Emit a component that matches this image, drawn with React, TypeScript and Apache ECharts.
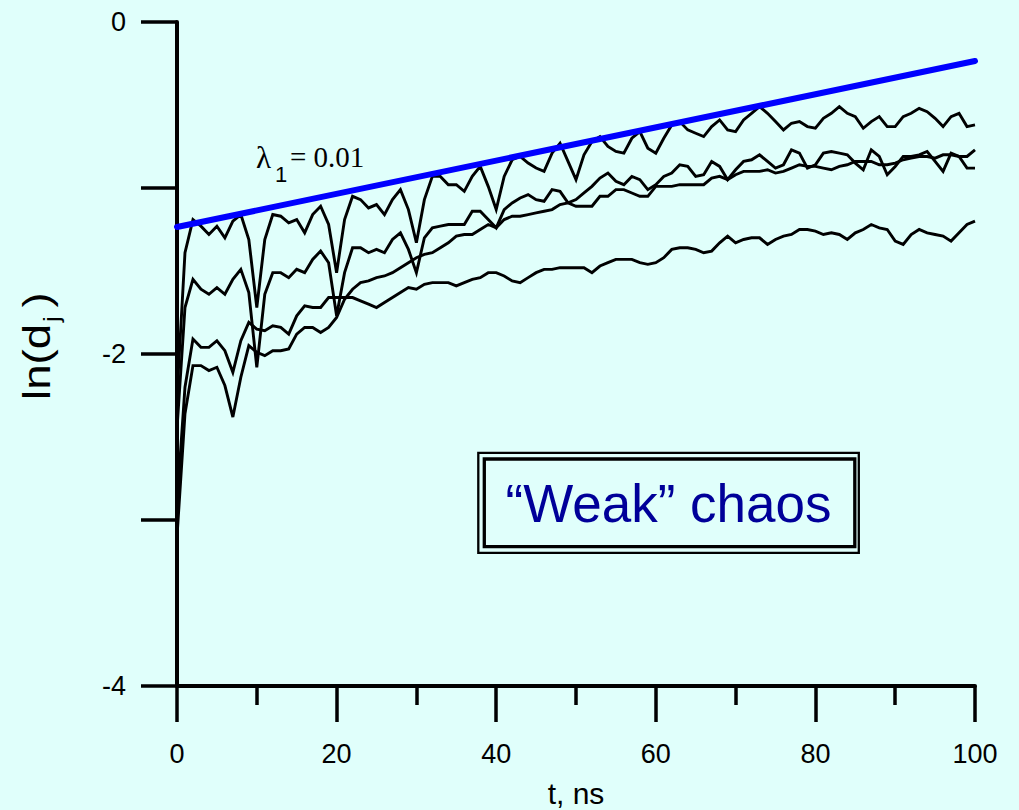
import React, { useEffect, useRef } from "react";
import * as echarts from "echarts";

// time samples (ns)
const timeNs: number[] = Array.from({ length: 101 }, (_, i) => i);

// ln(d_j) curves, one value per ns (t = 0..100)
const curveA = [
  -2.25, -1.39, -1.19, -1.23, -1.28, -1.23, -1.30, -1.20, -1.16, -1.31,
  -1.72, -1.31, -1.16, -1.17, -1.21, -1.19, -1.27, -1.16, -1.11, -1.22,
  -1.51, -1.19, -1.05, -1.07, -1.12, -1.10, -1.16, -1.07, -1.01, -1.13,
  -1.33, -1.07, -0.93, -0.93, -0.98, -0.98, -1.02, -0.93, -0.87, -0.99,
  -1.13, -0.93, -0.83, -0.81, -0.85, -0.88, -0.90, -0.79, -0.73, -0.84,
  -0.95, -0.80, -0.72, -0.69, -0.75, -0.78, -0.79, -0.70, -0.66, -0.76,
  -0.79, -0.70, -0.62, -0.60, -0.65, -0.67, -0.69, -0.63, -0.59, -0.65,
  -0.66, -0.59, -0.55, -0.51, -0.55, -0.60, -0.65, -0.61, -0.60, -0.63,
  -0.64, -0.58, -0.55, -0.51, -0.55, -0.57, -0.64, -0.60, -0.57, -0.63,
  -0.63, -0.57, -0.55, -0.52, -0.54, -0.58, -0.63, -0.57, -0.55, -0.63,
  -0.62,
];
const curveB = [
  -2.45, -1.72, -1.55, -1.61, -1.64, -1.60, -1.64, -1.55, -1.49, -1.63,
  -2.08, -1.64, -1.51, -1.51, -1.54, -1.49, -1.51, -1.43, -1.38, -1.45,
  -1.77, -1.51, -1.36, -1.36, -1.39, -1.37, -1.39, -1.31, -1.27, -1.37,
  -1.51, -1.30, -1.24, -1.23, -1.22, -1.22, -1.22, -1.14, -1.14, -1.19,
  -1.24, -1.13, -1.09, -1.06, -1.04, -1.07, -1.08, -1.01, -1.02, -1.09,
  -1.11, -1.11, -1.11, -1.05, -1.05, -1.01, -1.01, -1.03, -1.05, -1.05,
  -0.99, -0.99, -0.99, -0.98, -0.98, -0.98, -0.98, -0.94, -0.93, -0.95,
  -0.92, -0.90, -0.90, -0.90, -0.89, -0.91, -0.90, -0.88, -0.86, -0.87,
  -0.87, -0.88, -0.89, -0.87, -0.86, -0.84, -0.84, -0.84, -0.86, -0.86,
  -0.85, -0.83, -0.82, -0.81, -0.81, -0.82, -0.80, -0.80, -0.81, -0.81,
  -0.77,
];
const curveC = [
  -2.90, -2.20, -1.91, -1.96, -1.96, -1.92, -1.98, -2.11, -1.92, -1.81,
  -1.85, -1.86, -1.83, -1.84, -1.88, -1.77, -1.71, -1.72, -1.72, -1.66,
  -1.66, -1.66, -1.66, -1.68, -1.70, -1.72, -1.69, -1.66, -1.63, -1.60,
  -1.61, -1.58, -1.57, -1.57, -1.57, -1.59, -1.57, -1.55, -1.54, -1.51,
  -1.51, -1.53, -1.56, -1.57, -1.54, -1.51, -1.49, -1.49, -1.48, -1.48,
  -1.48, -1.48, -1.51, -1.47, -1.45, -1.43, -1.43, -1.43, -1.45, -1.46,
  -1.45, -1.42, -1.37, -1.36, -1.36, -1.37, -1.39, -1.38, -1.33, -1.29,
  -1.33, -1.31, -1.30, -1.30, -1.34, -1.31, -1.29, -1.28, -1.25, -1.25,
  -1.26, -1.28, -1.27, -1.28, -1.31, -1.27, -1.25, -1.22, -1.24, -1.25,
  -1.32, -1.34, -1.28, -1.25, -1.27, -1.28, -1.29, -1.32, -1.27, -1.22,
  -1.20,
];
const curveD = [
  -3.10, -2.36, -2.07, -2.07, -2.10, -2.08, -2.19, -2.38, -2.14, -1.95,
  -1.99, -2.01, -1.98, -1.98, -1.97, -1.88, -1.84, -1.84, -1.87, -1.84,
  -1.78, -1.67, -1.61, -1.57, -1.56, -1.54, -1.53, -1.51, -1.48, -1.45,
  -1.42, -1.40, -1.39, -1.36, -1.33, -1.29, -1.28, -1.28, -1.25, -1.22,
  -1.24, -1.19, -1.17, -1.17, -1.16, -1.15, -1.14, -1.13, -1.10, -1.09,
  -1.07, -1.03, -0.99, -0.94, -0.91, -0.96, -0.98, -0.93, -0.95, -1.01,
  -0.98, -0.93, -0.91, -0.86, -0.87, -0.93, -0.92, -0.84, -0.87, -0.95,
  -0.89, -0.84, -0.83, -0.80, -0.84, -0.88, -0.86, -0.77, -0.79, -0.88,
  -0.86, -0.79, -0.78, -0.79, -0.80, -0.85, -0.89, -0.77, -0.81, -0.92,
  -0.87, -0.81, -0.81, -0.80, -0.78, -0.84, -0.90, -0.79, -0.81, -0.88,
  -0.88,
];

// fitted slope line, lambda_1 = 0.01
const lambdaFit: number[][] = [
  [0, -1.235],
  [100, -0.235],
];

const xLabelValues = [0, 20, 40, 60, 80, 100];
const yLabelValues = [0, -2, -4];

const BG = "#E0FFFB";
const SANS = "'Liberation Sans', Arial, Helvetica, sans-serif";
const SERIF = "'Liberation Serif', 'Times New Roman', serif";

export default function App() {
  const ref = useRef<HTMLDivElement>(null);

  useEffect(() => {
    if (!ref.current) return;
    const chart = echarts.init(ref.current, null, { renderer: "svg" });
    const toPts = (vals: number[]) => vals.map((v, i) => [timeNs[i], v]);

    const blackSeries = [curveA, curveB, curveC, curveD].map((vals, k) => ({
      type: "line",
      name: "d" + (k + 1),
      data: toPts(vals),
      symbol: "none",
      showSymbol: false,
      silent: true,
      lineStyle: { color: "#000", width: 2.9, join: "miter" },
      z: 2,
    }));

    chart.setOption({
      animation: false,
      backgroundColor: BG,
      grid: { left: 177, right: 44, top: 22, bottom: 124, containLabel: false },
      xAxis: {
        type: "value",
        min: 0,
        max: 100,
        interval: 20,
        axisLine: { onZero: false, lineStyle: { color: "#000", width: 4 } },
        axisTick: { length: 36, lineStyle: { color: "#000", width: 3.5 } },
        minorTick: { show: true, splitNumber: 2, length: 19, lineStyle: { color: "#000", width: 3.5 } },
        splitLine: { show: false },
        minorSplitLine: { show: false },
        axisLabel: {
          formatter: (v: number) => (xLabelValues.indexOf(v) >= 0 ? String(v) : ""),
          fontSize: 27,
          fontFamily: SANS,
          color: "#000",
          margin: 54,
        },
      },
      yAxis: {
        type: "value",
        min: -4,
        max: 0,
        interval: 1,
        axisLine: { onZero: false, lineStyle: { color: "#000", width: 4 } },
        axisTick: { length: 36, lineStyle: { color: "#000", width: 3.5 } },
        splitLine: { show: false },
        axisLabel: {
          formatter: (v: number) => (yLabelValues.indexOf(v) >= 0 ? String(v) : ""),
          fontSize: 27,
          fontFamily: SANS,
          color: "#000",
          margin: 51,
        },
      },
      series: [
        ...blackSeries,
        {
          type: "line",
          name: "lambda",
          data: lambdaFit,
          symbol: "none",
          silent: true,
          lineStyle: { color: "#0000FF", width: 6, cap: "round" },
          z: 3,
        },
      ],
      graphic: [
        // x axis title
        {
          type: "text",
          x: 576,
          y: 793,
          style: { text: "t, ns", font: `30px ${SANS}`, fill: "#000", textAlign: "center", textVerticalAlign: "middle" },
        },
        // y axis title ln(d_j)
        {
          type: "group",
          x: 37,
          y: 400,
          rotation: Math.PI / 2,
          scaleX: 1.2,
          children: [
            { type: "text", x: 0, y: 0, style: { text: "ln(d", font: `38px ${SANS}`, fill: "#000", textAlign: "left", textVerticalAlign: "middle" } },
            { type: "text", x: 65, y: 14, style: { text: "j", font: `22px ${SANS}`, fill: "#000", textAlign: "left", textVerticalAlign: "middle" } },
            { type: "text", x: 77, y: 0, style: { text: ")", font: `38px ${SANS}`, fill: "#000", textAlign: "left", textVerticalAlign: "middle" } },
          ],
        },
        // lambda annotation
        { type: "text", x: 256, y: 157, style: { text: "\u03BB", font: `31px ${SERIF}`, fill: "#000", textAlign: "left", textVerticalAlign: "middle" } },
        { type: "text", x: 275, y: 174, style: { text: "1", font: `22px ${SANS}`, fill: "#000", textAlign: "left", textVerticalAlign: "middle" } },
        { type: "text", x: 290, y: 157, style: { text: "= 0.01", font: `29px ${SERIF}`, fill: "#000", textAlign: "left", textVerticalAlign: "middle" } },
        // "Weak" chaos box
        {
          type: "rect",
          shape: { x: 478.3, y: 452.8, width: 380.5, height: 100 },
          style: { fill: BG, stroke: "#000", lineWidth: 2.3 },
          z: 10,
        },
        {
          type: "rect",
          shape: { x: 484.3, y: 459, width: 370.5, height: 87.7 },
          style: { fill: "none", stroke: "#000", lineWidth: 3.3 },
          z: 11,
        },
        {
          type: "text",
          x: 668.5,
          y: 503,
          z: 12,
          style: { text: "\u201CWeak\u201D chaos", font: `53px ${SANS}`, fill: "#000099", textAlign: "center", textVerticalAlign: "middle" },
        },
      ],
    });

    return () => chart.dispose();
  }, []);

  return (
    <div
      ref={ref}
      style={{ position: "fixed", left: 0, top: 0, width: 1019, height: 810, background: BG }}
    />
  );
}
